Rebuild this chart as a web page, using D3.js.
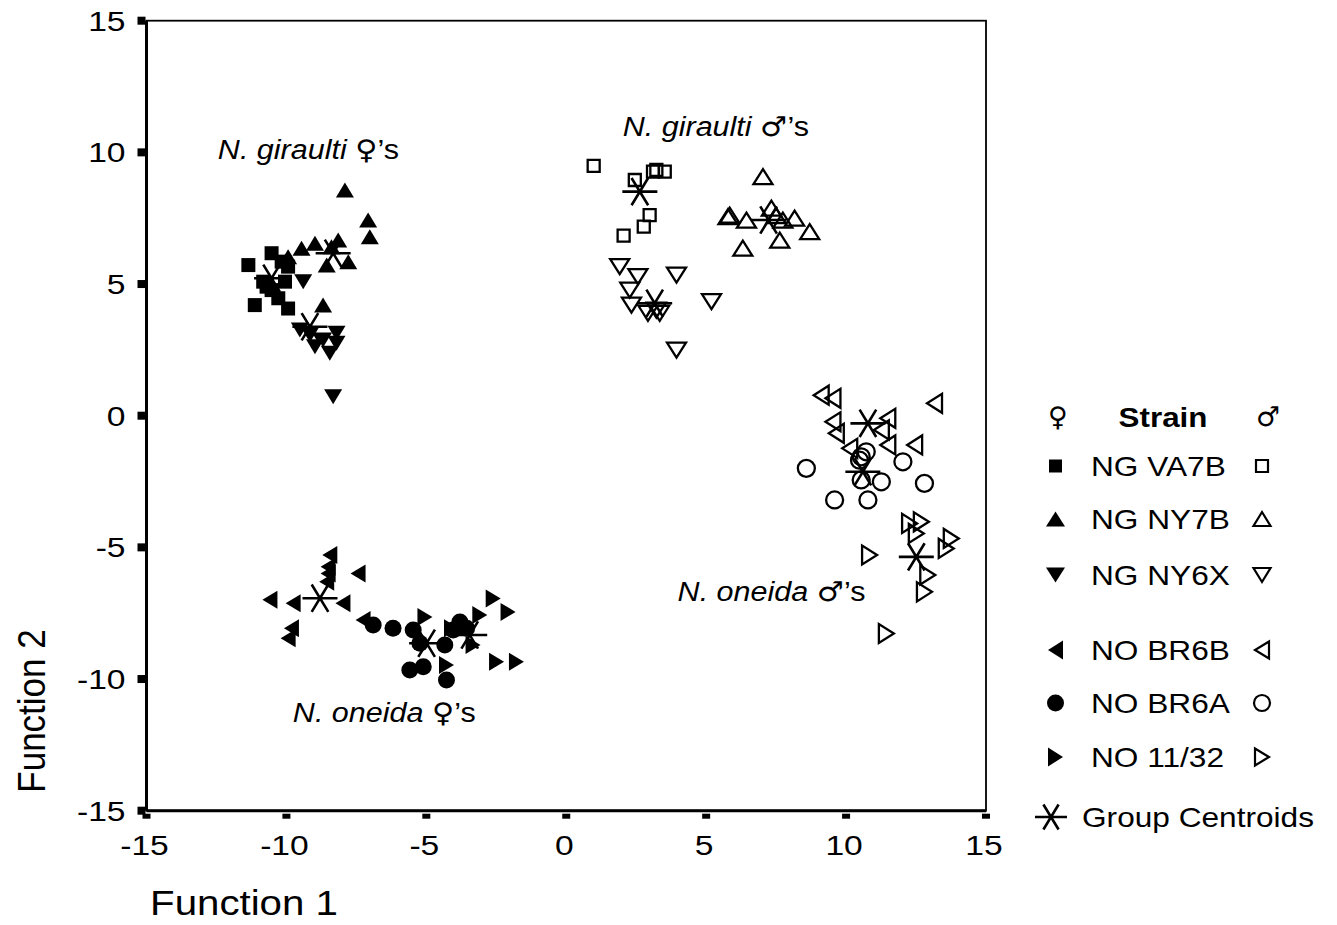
<!DOCTYPE html>
<html>
<head>
<meta charset="utf-8">
<script src="https://cdn.jsdelivr.net/npm/d3@7"></script>
<style>
  body { margin: 0; background: #fff; }
  svg { display: block; font-family: "Liberation Sans", Arial, sans-serif; }
</style>
</head>
<body>
<div id="chart"></div>
<script>
// strains, in legend order
var strains = ["NG VA7B", "NG NY7B", "NG NY6X", "NO BR6B", "NO BR6A", "NO 11/32"];
var shapes = ["square", "triUp", "triDown", "triLeft", "circle", "triRight"];

// discriminant scores: [function 1, function 2]
var femaleVA7B = [[-11.36,5.72],[-10.53,6.17],[-10.17,5.85],[-10.83,5.09],[-10.53,4.77],[-10.05,5.09],[-11.13,4.20],[-9.94,4.07],[-10.29,4.46],[-10.71,4.90],[-9.94,5.66]];
var femaleNY7B = [[-7.91,8.57],[-7.08,7.43],[-7.02,6.80],[-9.46,6.36],[-8.98,6.55],[-8.15,6.67],[-8.56,5.72],[-7.79,5.85],[-8.69,4.20],[-9.94,6.04],[-8.39,6.42]];
var femaleNY6X = [[-9.40,5.09],[-9.52,3.25],[-9.16,3.06],[-8.98,2.62],[-8.45,2.37],[-8.21,3.13],[-8.21,2.75],[-8.69,2.87],[-8.33,0.72]];
var femaleBR6B = [[-8.45,-5.29],[-8.51,-5.74],[-8.51,-5.99],[-8.56,-6.31],[-7.44,-5.99],[-10.59,-6.99],[-9.76,-7.12],[-7.98,-7.12],[-9.82,-8.07],[-9.94,-8.45],[-7.26,-7.76]];
var femaleBR6A = [[-6.90,-7.95],[-6.19,-8.07],[-5.47,-8.14],[-5.23,-8.64],[-4.34,-8.71],[-3.80,-7.83],[-4.04,-8.14],[-5.59,-9.66],[-5.11,-9.53],[-4.28,-10.04],[-3.56,-8.07]];
var female1132 = [[-5.05,-7.64],[-2.61,-6.94],[-2.08,-7.45],[-3.09,-7.57],[-3.33,-8.71],[-2.49,-9.34],[-1.78,-9.34],[-4.28,-9.47],[-4.10,-8.07]];

var maleVA7B = [[0.98,9.49],[3.22,9.33],[3.52,9.27],[3.10,9.27],[2.45,8.95],[2.98,7.62],[2.77,7.18],[2.05,6.84]];
var maleNY7B = [[7.03,9.08],[5.84,7.62],[5.78,7.56],[6.44,7.43],[7.33,7.88],[7.74,7.43],[8.16,7.50],[8.70,6.99],[7.63,6.67],[6.31,6.36],[7.50,7.60]];
var maleNY6X = [[1.91,5.66],[2.56,5.28],[2.27,4.77],[2.33,4.20],[3.94,5.34],[5.19,4.33],[2.92,3.89],[3.34,3.89],[3.22,4.01],[3.94,2.49]];
var maleBR6B = [[9.11,0.78],[9.53,0.66],[13.16,0.47],[9.53,-0.23],[9.65,-0.67],[11.49,-0.10],[11.26,-0.54],[11.49,-1.11],[10.13,-1.24],[12.45,-1.11]];
var maleBR6A = [[8.58,-2.00],[10.54,-1.56],[10.72,-1.37],[10.48,-1.69],[12.03,-1.75],[10.54,-2.44],[11.26,-2.51],[12.80,-2.57],[9.59,-3.20],[10.78,-3.20]];
var male1132 = [[12.27,-4.09],[12.69,-4.03],[12.51,-4.47],[13.76,-4.66],[13.58,-5.04],[10.84,-5.29],[12.92,-6.05],[12.80,-6.69],[11.44,-8.27]];

var femaleCentroids = [[-10.53,5.22],[-8.33,6.17],[-9.16,3.38],[-8.80,-6.93],[-4.99,-8.64],[-3.45,-8.33]];
var maleCentroids = [[2.63,8.51],[7.23,7.43],[3.16,4.27],[10.78,-0.29],[10.60,-2.13],[12.51,-5.36]];

var xTicks = [-15, -10, -5, 0, 5, 10, 15];
var yTicks = [-15, -10, -5, 0, 5, 10, 15];

// group labels: [text before sign, sign, text after, x, y]
var groupLabels = [
  ["N. giraulti ", "\u2640", "\u2019s", -12.45, 9.75],
  ["N. giraulti ", "\u2642", "\u2019s", 2.02, 10.62],
  ["N. oneida ", "\u2642", "\u2019s", 3.98, -7.04],
  ["N. oneida ", "\u2640", "\u2019s", -9.77, -11.63]
];

var females = [femaleVA7B, femaleNY7B, femaleNY6X, femaleBR6B, femaleBR6A, female1132];
var males = [maleVA7B, maleNY7B, maleNY6X, maleBR6B, maleBR6A, male1132];

var width = 1337, height = 925;
var stretch = 1.12;   // the source picture is a bit wider than tall

var svg = d3.select('#chart').append('svg')
    .attr('width', width)
    .attr('height', height);

var x = d3.scaleLinear().domain([-15, 15]).range([146.5, 986]);
var y = d3.scaleLinear().domain([-15, 15]).range([810.7, 20.7]);

// marker outline centred on 0,0
function shapePath(shape, w, h) {
  var p = d3.path();
  if (shape === 'square') {
    p.rect(-w / 2, -w / 2, w, w);
  } else if (shape === 'circle') {
    p.arc(0, 0, w / 2, 0, 2 * Math.PI);
  } else if (shape === 'triUp') {
    p.moveTo(-w / 2, h / 2); p.lineTo(w / 2, h / 2); p.lineTo(0, -h / 2); p.closePath();
  } else if (shape === 'triDown') {
    p.moveTo(-w / 2, -h / 2); p.lineTo(w / 2, -h / 2); p.lineTo(0, h / 2); p.closePath();
  } else if (shape === 'triLeft') {
    p.moveTo(h / 2, -w / 2); p.lineTo(h / 2, w / 2); p.lineTo(-h / 2, 0); p.closePath();
  } else if (shape === 'triRight') {
    p.moveTo(-h / 2, -w / 2); p.lineTo(-h / 2, w / 2); p.lineTo(h / 2, 0); p.closePath();
  }
  return p.toString();
}

function markSize(shape, open) {
  if (shape === 'square') return open ? [12, 12] : [14, 14];
  if (shape === 'circle') return open ? [17, 17] : [17, 17];
  return open ? [19, 15] : [18, 15];
}

function asterisk(g, cx, cy, r) {
  var a = Math.PI / 3;
  var d = 'M' + (cx - r) + ',' + cy + 'L' + (cx + r) + ',' + cy +
    'M' + (cx - r * Math.cos(a) * 0.95) + ',' + (cy - r * Math.sin(a) * 0.9) +
    'L' + (cx + r * Math.cos(a) * 0.95) + ',' + (cy + r * Math.sin(a) * 0.9) +
    'M' + (cx + r * Math.cos(a) * 0.95) + ',' + (cy - r * Math.sin(a) * 0.9) +
    'L' + (cx - r * Math.cos(a) * 0.95) + ',' + (cy + r * Math.sin(a) * 0.9);
  g.append('path').attr('d', d)
    .attr('stroke', '#000').attr('stroke-width', 2.6).attr('fill', 'none');
}

function stretchedText(g, tx, ty, str, size, anchor, sx) {
  return g.append('text')
    .attr('transform', 'translate(' + tx + ',' + ty + ') scale(' + (sx || stretch) + ',1)')
    .attr('text-anchor', anchor || 'start')
    .attr('font-size', size)
    .attr('fill', '#000')
    .text(str);
}

// frame
var frame = svg.append('g');
frame.append('rect')
  .attr('x', x(-15)).attr('y', y(15))
  .attr('width', x(15) - x(-15)).attr('height', y(-15) - y(15))
  .attr('fill', 'none').attr('stroke', '#000').attr('stroke-width', 1.8);
frame.append('line')
  .attr('x1', x(-15)).attr('x2', x(-15)).attr('y1', y(15)).attr('y2', y(-15))
  .attr('stroke', '#000').attr('stroke-width', 3);
frame.append('line')
  .attr('x1', x(-15)).attr('x2', x(15)).attr('y1', y(-15)).attr('y2', y(-15))
  .attr('stroke', '#000').attr('stroke-width', 3);

// ticks (short thick marks) and labels
frame.selectAll('.ytick').data(yTicks).enter().append('rect')
  .attr('x', x(-15) - 9).attr('y', function(d) { return y(d) - 4; })
  .attr('width', 8).attr('height', 8).attr('fill', '#000');
frame.selectAll('.xtick').data(xTicks).enter().append('rect')
  .attr('x', function(d) { return x(d) - 4; }).attr('y', y(-15) + 3)
  .attr('width', 8).attr('height', 5).attr('fill', '#000');

yTicks.forEach(function(d) {
  stretchedText(frame, x(-15) - 21, y(d) + 10, d, 28, 'end', 1.2);
});
xTicks.forEach(function(d) {
  stretchedText(frame, x(d) - 2, y(-15) + 44, d, 28, 'middle', 1.2);
});

stretchedText(svg, 244, 915, 'Function 1', 35, 'middle', 1.15);
svg.append('text')
  .attr('transform', 'translate(45,711) rotate(-90) scale(1,' + stretch + ')')
  .attr('text-anchor', 'middle')
  .attr('font-size', 35)
  .text('Function 2');

// points
var marks = svg.append('g');
strains.forEach(function(s, i) {
  var shape = shapes[i];
  var fs = markSize(shape, false);
  marks.selectAll('.f' + i).data(females[i]).enter().append('path')
    .attr('transform', function(d) { return 'translate(' + x(d[0]) + ',' + y(d[1]) + ')'; })
    .attr('d', shapePath(shape, fs[0], fs[1]))
    .attr('fill', '#000');
  var ms = markSize(shape, true);
  marks.selectAll('.m' + i).data(males[i]).enter().append('path')
    .attr('transform', function(d) { return 'translate(' + x(d[0]) + ',' + y(d[1]) + ')'; })
    .attr('d', shapePath(shape, ms[0], ms[1]))
    .attr('fill', 'none')
    .attr('stroke', '#000')
    .attr('stroke-width', 2.3);
});

femaleCentroids.concat(maleCentroids).forEach(function(d) {
  asterisk(marks, x(d[0]), y(d[1]), 17.5);
});

// group labels
groupLabels.forEach(function(l) {
  var t = svg.append('text')
    .attr('transform', 'translate(' + x(l[3]) + ',' + y(l[4]) + ') scale(1.13,1)')
    .attr('font-size', 27)
    .attr('fill', '#000');
  t.append('tspan').attr('font-style', 'italic').text(l[0]);
  t.append('tspan').attr('font-family', 'DejaVu Sans').attr('font-size', 27).text(l[1]);
  t.append('tspan').text(l[2]);
});

// legend
var legend = svg.append('g');
var rowY = [466, 519, 575, 650, 703, 757];
legend.append('text').attr('x', 1058).attr('y', 426).attr('text-anchor', 'middle')
  .attr('font-family', 'DejaVu Sans').attr('font-size', 27).text('\u2640');
legend.append('text').attr('x', 1268).attr('y', 426).attr('text-anchor', 'middle')
  .attr('font-family', 'DejaVu Sans').attr('font-size', 27).text('\u2642');
stretchedText(legend, 1163, 427, 'Strain', 28, 'middle').attr('font-weight', 'bold');

strains.forEach(function(s, i) {
  var shape = shapes[i];
  var ly = rowY[i];
  var fs = shape === 'square' ? [13, 13] : (shape === 'circle' ? [17, 17] : [19, 15]);
  legend.append('path')
    .attr('transform', 'translate(1055.5,' + ly + ')')
    .attr('d', shapePath(shape, fs[0], fs[1]))
    .attr('fill', '#000');
  var ms = shape === 'square' ? [12, 12] : (shape === 'circle' ? [16, 16] : [17, 14]);
  legend.append('path')
    .attr('transform', 'translate(1262,' + ly + ')')
    .attr('d', shapePath(shape, ms[0], ms[1]))
    .attr('fill', 'none').attr('stroke', '#000').attr('stroke-width', 2.2);
  stretchedText(legend, 1091, ly + 10, s, 28, 'start', 1.13);
});
asterisk(legend, 1051, 817, 16);
stretchedText(legend, 1082, 827, 'Group Centroids', 28, 'start', 1.13);
</script>
</body>
</html>
